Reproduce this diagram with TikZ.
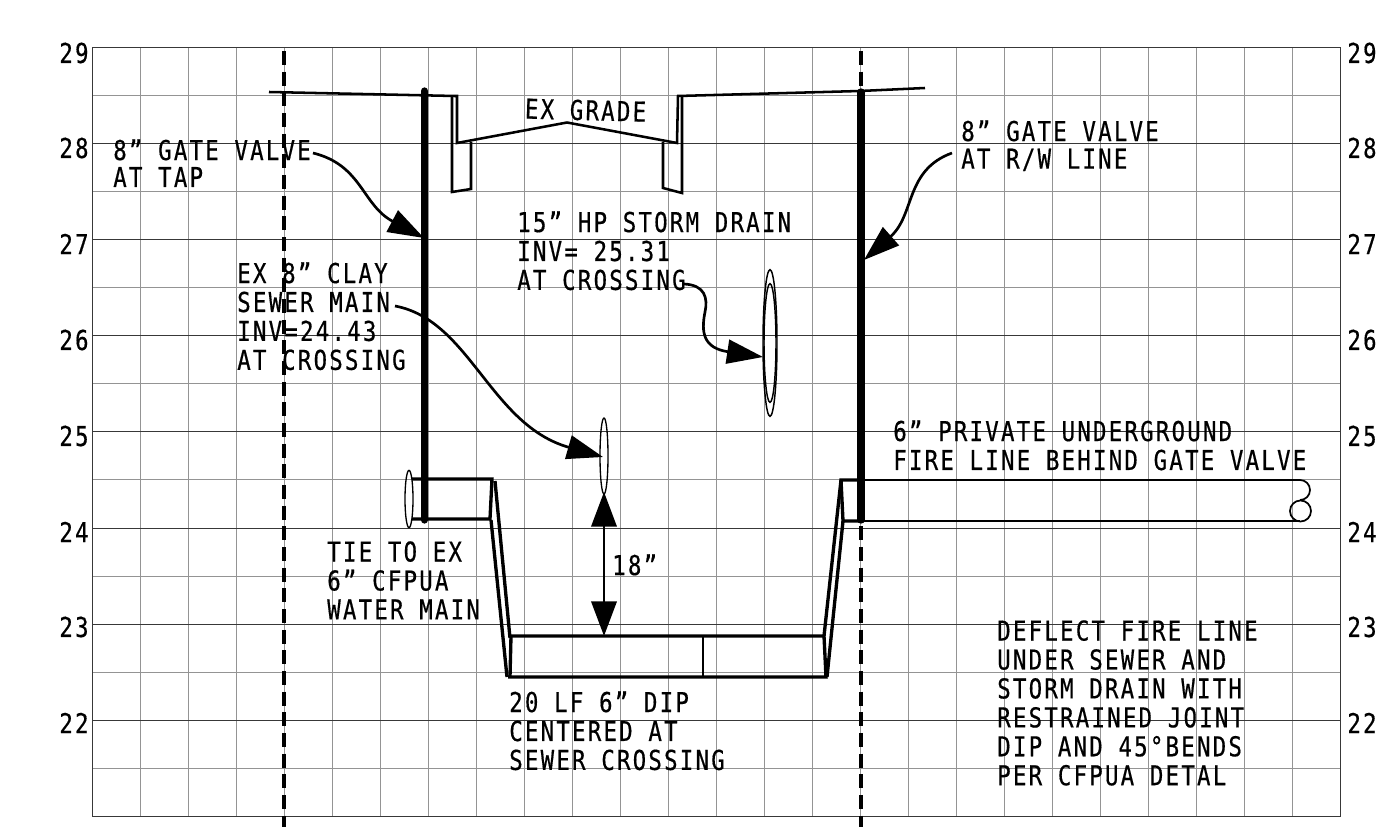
\documentclass[tikz,border=0pt]{standalone}
\usepackage{fontspec}
\setmainfont{DejaVu Sans Mono}[FakeStretch=0.82,LetterSpace=8.1,FakeBold=0.5]
\usetikzlibrary{arrows.meta,shapes.geometric}
\definecolor{gridc}{gray}{0.58}
\definecolor{majc}{gray}{0.22}
\tikzset{
 x=0.75pt,y=-0.75pt,
 minor/.style={gridc,line width=0.75pt},
 major/.style={majc,line width=0.75pt},
 wall/.style={black,line width=2.5pt,line join=miter},
 gradeline/.style={black,line width=1.9pt,line join=miter},
 thin pipe/.style={black,line width=1.3pt},
 heavy/.style={black,line width=5.5pt,line cap=round},
 row/.style={black,line width=2.5pt,dash pattern=on 10.5pt off 5pt},
 lead/.style={black,line width=2pt,-{Triangle[length=27pt,width=18pt]}},
 lbl/.style={anchor=north west,inner sep=0pt,align=left,font=\fontsize{20.5}{21.7}\selectfont},
 num/.style={anchor=center,inner sep=0pt,font=\fontsize{20.5}{21.7}\selectfont},
}
\begin{document}
\begin{tikzpicture}
\useasboundingbox (0,0) rectangle (1382,830);
\fill[white] (0,0) rectangle (1382,830);
% grid
\foreach \k in {1,...,25}{\draw[minor] ({92+48*\k},48) -- ({92+48*\k},816);}
\foreach \k in {96,192,288,384,480,576,672,768}{\draw[minor] (92,\k) -- (1340,\k);}
\foreach \k in {144,240,336,432,528,624,720}{\draw[major] (92,\k) -- (1340,\k);}
\draw[major] (92,48) rectangle (1340,816);
% axis numbers
\foreach \v/\k in {29/53,28/148,27/244,26/340,25/436,24/532,23/627,22/723}{
 \node[num] (l\v) at (74,\k) {\v};
 \node[num] (r\v) at (1362,\k) {\v};
}
% right of way
\coordinate (rwAt) at (284,51); \coordinate (rwAb) at (284,827);
\coordinate (rwBt) at (861,51); \coordinate (rwBb) at (861,827);
\draw[row] (rwAt) -- (rwAb);
\draw[row] (rwBt) -- (rwBb);
% grade
\draw[gradeline] (269,92) -- (455,96) -- (457,96) -- (457,143) -- (567,122.5) -- (677,143) -- (678,96) -- (860,91) -- (925,88);
\draw[gradeline] (452,96) -- (452,192) -- (471,189) -- (471,142);
\draw[gradeline] (682,96) -- (682,193) -- (663,188) -- (663,142);
% fire line
\draw[thin pipe] (861,480) -- (1300,480) arc[start angle=-90,end angle=90,radius=10] ;
\draw[thin pipe] (861,521) -- (1300,521);
\node[draw,circle,black,line width=1.3pt,minimum size=15.75pt,inner sep=0pt] (plug) at (1300.5,511) {};
% water pipe left
\node[draw,ellipse,black,line width=1pt,minimum width=6pt,minimum height=43pt,inner sep=0pt] (tie) at (409,499) {};
\draw[wall] (412,479) -- (492,479) -- (490,519) -- (412,519);
\draw[wall] (495,481) -- (510,638);
\draw[wall] (491,520) -- (507,677);
\draw[wall] (511,636) -- (510,677);
% lowered section
\draw[wall] (510,636) -- (824,636) -- (826,677) -- (508,677);
\draw[gradeline] (703,636) -- (703,677);
% right side
\draw[wall] (841,480) -- (824,636);
\draw[wall] (843,521) -- (827,677);
\draw[wall] (861,480) -- (841,480) -- (843,521) -- (861,521);
% valves
\coordinate (vAt) at (424.5,91); \coordinate (vAb) at (424.5,520);
\coordinate (vBt) at (861,92); \coordinate (vBb) at (861,520);
\draw[heavy] (vAt) -- (vAb);
\draw[heavy] (vBt) -- (vBb);
% crossings
\node[draw,ellipse,black,line width=1pt,minimum width=6pt,minimum height=57pt,inner sep=0pt] (sewer) at (604,456) {};
\node[draw,ellipse,black,line width=1.1pt,minimum width=10.5pt,minimum height=110pt,inner sep=0pt] (stormo) at (770,343) {};
\node[draw,ellipse,black,line width=1.1pt,minimum width=9pt,minimum height=89pt,inner sep=0pt] (stormi) at (770,343) {};
% labels
\node[lbl,rotate=-1.5] (grade) at (525,98) {EX GRADE};
\node[lbl] (gvA) at (113,139) {8" GATE VALVE\\[-1.5pt]AT TAP};
\node[lbl] (gvB) at (961,120) {8" GATE VALVE\\[-1pt]AT R/W LINE};
\node[lbl] (clay) at (237,262) {EX 8" CLAY\\SEWER MAIN\\INV=24.43\\AT CROSSING};
\node[lbl] (storm) at (517,211) {15" HP STORM DRAIN\\INV= 25.31\\AT CROSSING};
\node[lbl] (fire) at (893,420) {6" PRIVATE UNDERGROUND\\FIRE LINE BEHIND GATE VALVE};
\node[lbl] (tieT) at (327,541) {TIE TO EX\\6" CFPUA\\WATER MAIN};
\node[lbl] (dim) at (612,554) {18"};
\node[lbl] (dip) at (509,691) {20 LF 6" DIP\\CENTERED AT\\SEWER CROSSING};
\node[lbl] (defl) at (997,620) {DEFLECT FIRE LINE\\UNDER SEWER AND\\STORM DRAIN WITH\\RESTRAINED JOINT\\DIP AND 45°BENDS\\PER CFPUA DETAL};
% leaders
\coordinate (tipA) at (424,238);
\coordinate (tipB) at (864,260);
\coordinate (tipC) at (603,457);
\coordinate (tipD) at (763,357);
\coordinate (sA) at (313,153);
\coordinate (sB) at (952,153);
\coordinate (sC) at (395,306);
\coordinate (sD) at (684,284);
\coordinate (midD) at (705,312);
\coordinate (dimTop) at (604,492);
\coordinate (dimBot) at (604,636);
\draw[lead] (sA) .. controls (362,165) and (362,205) .. (tipA);
\draw[lead] (sB) .. controls (905,170) and (915,215) .. (tipB);
\draw[lead] (sC) .. controls (470,320) and (490,425) .. (tipC);
\draw[black,line width=2pt] (sD) .. controls (705,285) and (708,298) .. (midD);
\draw[lead] (midD) .. controls (701,332) and (703,348) .. (tipD);
\draw[black,line width=2pt,{Triangle[length=26pt,width=19pt]}-{Triangle[length=26pt,width=19pt]}] (dimTop) -- (dimBot);
\end{tikzpicture}
\end{document}
